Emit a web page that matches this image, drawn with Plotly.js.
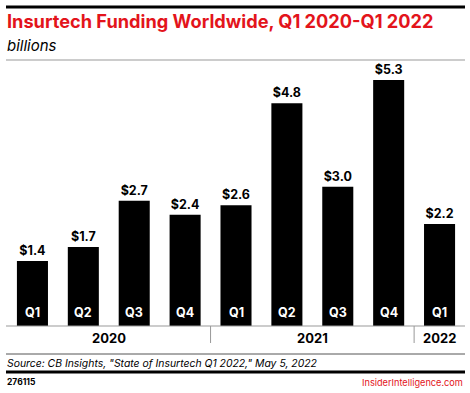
<!DOCTYPE html>
<html>
<head>
<meta charset="utf-8">
<script src="https://cdn.plot.ly/plotly-3.0.1.min.js"></script>
<style>html,body{margin:0;padding:0;background:#fff;}#chart{width:470px;height:393px;}</style>
</head>
<body>
<div id="chart"></div>
<script>
const quarters = ["Q1", "Q2", "Q3", "Q4", "Q1", "Q2", "Q3", "Q4", "Q1"];
const years = ["2020", "2020", "2020", "2020", "2021", "2021", "2021", "2021", "2022"];
const funding = [1.4, 1.7, 2.7, 2.4, 2.6, 4.8, 3.0, 5.3, 2.2];
const yearLabels = ["2020", "2021", "2022"];

const FONT = "Inter, 'Open Sans', Roboto, sans-serif";
const xIdx = funding.map((_, i) => i);

// pixel helpers (plot area: x 7..465, y 64..326)
const L = 7, R = 465, T = 64, B = 326;
const px = p => (p - L) / (R - L);
const py = p => (B - p) / (B - T);

const trace = {
  type: "bar",
  x: xIdx,
  y: funding,
  marker: {color: "#000000", line: {width: 0}},
  width: 0.61,
  texttemplate: "$%{y:.1f}",
  textposition: "outside",
  textfont: {family: FONT, size: 12.5, color: "#000", weight: 700},
  cliponaxis: false,
  hoverinfo: "skip"
};

const annotations = [];
quarters.forEach((q, i) => {
  annotations.push({x: i, y: 0, xref: "x", yref: "y", text: q, showarrow: false,
    yanchor: "bottom", yshift: 4, font: {family: FONT, size: 12.5, color: "#fff", weight: 700}});
});
yearLabels.forEach(yr => {
  const idxs = years.map((v, i) => v === yr ? i : -1).filter(i => i >= 0);
  const mid = (idxs[0] + idxs[idxs.length - 1]) / 2;
  annotations.push({x: mid, y: py(337.5), xref: "x", yref: "paper", text: yr, showarrow: false,
    yanchor: "middle", font: {family: FONT, size: 13, color: "#000", weight: 700}});
});
annotations.push(
  {x: px(5), y: py(21), xref: "paper", yref: "paper", xanchor: "left", yanchor: "middle", showarrow: false,
   text: "Insurtech Funding Worldwide, Q1 2020-Q1 2022", font: {family: FONT, size: 18.2, color: "#e3141b", weight: 700}},
  {x: px(5), y: py(45), xref: "paper", yref: "paper", xanchor: "left", yanchor: "middle", showarrow: false,
   text: "<i>billions</i>", font: {family: FONT, size: 15, color: "#000"}},
  {x: px(5), y: py(363), xref: "paper", yref: "paper", xanchor: "left", yanchor: "middle", showarrow: false,
   text: "<i>Source: CB Insights, \"State of Insurtech Q1 2022,\" May 5, 2022</i>", font: {family: FONT, size: 10.4, color: "#000"}},
  {x: px(5), y: py(382), xref: "paper", yref: "paper", xanchor: "left", yanchor: "middle", showarrow: false,
   text: "<b>276115</b>", font: {family: FONT, size: 8.5, color: "#000"}},
  {x: px(465), y: py(382), xref: "paper", yref: "paper", xanchor: "right", yanchor: "middle", showarrow: false,
   text: "InsiderIntelligence.com", font: {family: FONT, size: 9.2, color: "#e3141b"}}
);

const shapes = [
  {type: "line", xref: "paper", yref: "paper", x0: px(6), x1: px(465), y0: py(7), y1: py(7), line: {color: "#000", width: 3}},
  {type: "line", xref: "paper", yref: "paper", x0: px(6), x1: px(465), y0: py(60), y1: py(60), line: {color: "#999", width: 1}},
  {type: "line", xref: "paper", yref: "paper", x0: px(6), x1: px(465), y0: py(326), y1: py(326), line: {color: "#999", width: 1}},
  {type: "line", xref: "x", yref: "paper", x0: 3.5, x1: 3.5, y0: py(326), y1: py(343), line: {color: "#999", width: 1}},
  {type: "line", xref: "x", yref: "paper", x0: 7.5, x1: 7.5, y0: py(326), y1: py(343), line: {color: "#999", width: 1}},
  {type: "line", xref: "paper", yref: "paper", x0: px(6), x1: px(465), y0: py(354), y1: py(354), line: {color: "#555", width: 1}},
  {type: "line", xref: "paper", yref: "paper", x0: px(6), x1: px(465), y0: py(372), y1: py(372), line: {color: "#000", width: 3}}
];

const layout = {
  width: 470, height: 393,
  margin: {l: L, r: 470 - R, t: T, b: 393 - B, pad: 0},
  paper_bgcolor: "#fff", plot_bgcolor: "#fff",
  showlegend: false,
  xaxis: {range: [-0.5, 8.5], showticklabels: false, showgrid: false, zeroline: false, showline: false, ticks: "", fixedrange: true},
  yaxis: {range: [0, (B - T) / 46.4], showticklabels: false, showgrid: false, zeroline: false, showline: false, ticks: "", fixedrange: true},
  annotations: annotations,
  shapes: shapes,
  font: {family: FONT}
};

Plotly.newPlot("chart", [trace], layout, {displayModeBar: false, staticPlot: true});
</script>
</body>
</html>
